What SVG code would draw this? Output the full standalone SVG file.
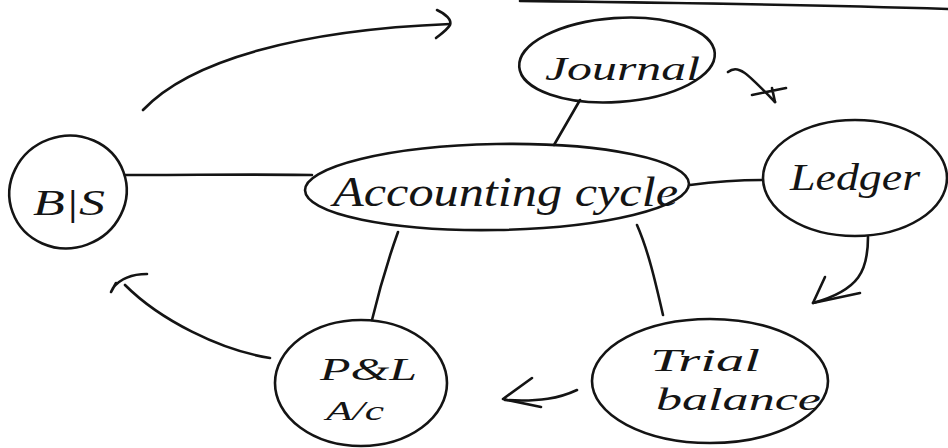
<svg xmlns="http://www.w3.org/2000/svg" width="948" height="448" viewBox="0 0 948 448">
<style>
.s{fill:none;stroke:#141414;stroke-width:2.6;stroke-linecap:round;stroke-linejoin:round}
.t{font-family:"Liberation Serif","DejaVu Serif",serif;font-style:italic;fill:#141414}
</style>
<rect width="948" height="448" fill="#ffffff"/>
<path class="s" d="M520,1 C700,3 850,6 948,9" stroke-width="3"/>
<g id="connectors">
<path class="s" d="M143,110 C190,60 300,30 450,24"/>
<path class="s" d="M437,10 C446,14 452,20 450,25 C447,30 441,34 436,38"/>
<path class="s" d="M728,72 C738,64 746,72 775,102"/>
<path class="s" d="M752,95 L786,88 M775,102 L772,88"/>
<path class="s" d="M580,100 L554,145"/>
<path class="s" d="M125,175 C200,175 260,174 312,175"/>
<path class="s" d="M690,185 C720,181 740,180 762,180"/>
<path class="s" d="M868,237 C868,270 860,290 813,303"/>
<path class="s" d="M825,277 L813,303 L860,293"/>
<path class="s" d="M637,225 C648,250 655,280 663,315"/>
<path class="s" d="M577,390 C560,398 540,402 505,400"/>
<path class="s" d="M532,378 L503,399 L541,407"/>
<path class="s" d="M398,232 C388,260 378,295 372,320"/>
<path class="s" d="M270,358 C220,350 160,320 125,285"/>
<path class="s" d="M147,274 C132,274 120,279 113,288 L111,292 L116,283"/>
</g>
<g id="journal">
<ellipse class="s" cx="617" cy="60" rx="98" ry="42" transform="rotate(-4 617 60)"/>
<text class="t" x="545" y="80" font-size="34" textLength="155" lengthAdjust="spacingAndGlyphs">Journal</text>
</g>
<g id="accounting">
<ellipse class="s" cx="497" cy="187" rx="192" ry="43" transform="rotate(-1 497 187)"/>
<text class="t" x="333" y="206" font-size="42" textLength="345" lengthAdjust="spacingAndGlyphs">Accounting cycle</text>
</g>
<g id="bs">
<ellipse class="s" cx="68" cy="192" rx="59" ry="56" transform="rotate(-20 68 192)"/>
<text class="t" x="33" y="215" font-size="36" textLength="72" lengthAdjust="spacingAndGlyphs">B|S</text>
</g>
<g id="ledger">
<ellipse class="s" cx="855" cy="178" rx="92" ry="58"/>
<text class="t" x="790" y="190" font-size="38" textLength="130" lengthAdjust="spacingAndGlyphs">Ledger</text>
</g>
<g id="trial">
<ellipse class="s" cx="710" cy="381" rx="118" ry="62"/>
<text class="t" x="650" y="371" font-size="32" textLength="110" lengthAdjust="spacingAndGlyphs">Trial</text>
<text class="t" x="656" y="410" font-size="32" textLength="165" lengthAdjust="spacingAndGlyphs">balance</text>
</g>
<g id="pl">
<ellipse class="s" cx="361" cy="383" rx="86" ry="63"/>
<text class="t" x="320" y="380" font-size="32" textLength="97" lengthAdjust="spacingAndGlyphs">P&amp;L</text>
<text class="t" x="326" y="420" font-size="28" textLength="58" lengthAdjust="spacingAndGlyphs">A/c</text>
</g>
</svg>
